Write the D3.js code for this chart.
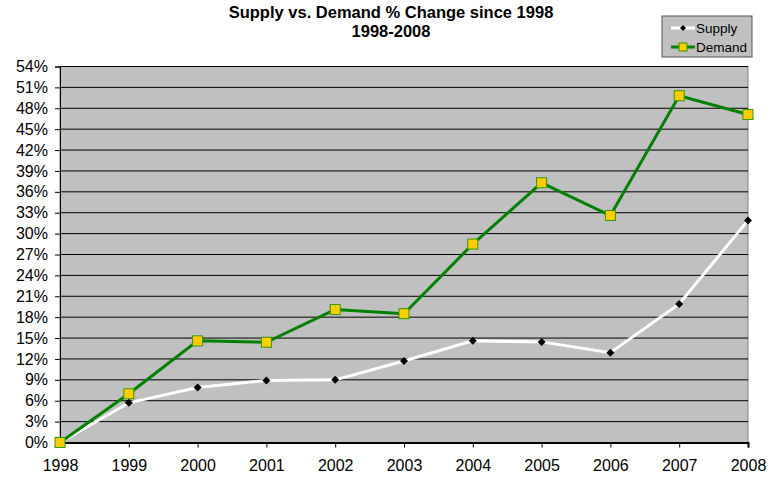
<!DOCTYPE html>
<html>
<head>
<meta charset="utf-8">
<script src="https://cdn.jsdelivr.net/npm/d3@7"></script>
<style>
  body { margin: 0; background: #fff; }
  text { font-family: Arial, "Liberation Sans", sans-serif; }
</style>
</head>
<body>
<div id="chart"></div>
<script>
// chart data
const years = [1998, 1999, 2000, 2001, 2002, 2003, 2004, 2005, 2006, 2007, 2008];
const supply = [0, 5.7, 7.9, 8.9, 9.0, 11.7, 14.6, 14.45, 12.9, 19.9, 31.9];
const demand = [0, 7.0, 14.6, 14.4, 19.1, 18.5, 28.5, 37.3, 32.6, 49.8, 47.1];
const yTicks = d3.range(0, 55, 3);
const titleLines = ["Supply vs. Demand % Change since 1998", "1998-2008"];

const W = 783, H = 477;
const margin = {top: 66.5, right: 35, bottom: 34.5, left: 60};
const w = W - margin.left - margin.right,
      h = H - margin.top - margin.bottom;

const svg = d3.select("#chart").append("svg")
  .attr("width", W)
  .attr("height", H);

const x = d3.scaleLinear().domain([1998, 2008]).range([0, w]);
const y = d3.scaleLinear().domain([0, 54]).range([h, 0]);

const g = svg.append("g")
  .attr("transform", "translate(" + margin.left + "," + margin.top + ")");

// plot area
g.append("rect")
  .attr("width", w).attr("height", h)
  .attr("fill", "#c0c0c0")
  .attr("stroke", "#808080");

// gridlines
g.selectAll(".grid")
  .data(yTicks.slice(1))
  .enter().append("line")
  .attr("x1", 0).attr("x2", w)
  .attr("y1", d => y(d)).attr("y2", d => y(d))
  .attr("stroke", "#000")
  .attr("stroke-width", 1);

// y axis
const yAxis = g.append("g")
  .call(d3.axisLeft(y).tickValues(yTicks).tickFormat(d => d + "%").tickSize(5).tickPadding(7));
yAxis.select(".domain").attr("stroke", "#000");
yAxis.selectAll("text").attr("font-size", "16px").attr("fill", "#000");

// x axis
const xAxis = g.append("g")
  .attr("transform", "translate(0," + h + ")")
  .call(d3.axisBottom(x).tickValues(years).tickFormat(d3.format("d")).tickSize(5).tickPadding(12));
xAxis.select(".domain").attr("stroke", "#000").attr("stroke-width", 2);
xAxis.selectAll("text").attr("font-size", "16px").attr("fill", "#000");

const line = d3.line()
  .x((d, i) => x(years[i]))
  .y(d => y(d));

// supply series
g.append("path")
  .datum(supply)
  .attr("d", line)
  .attr("fill", "none")
  .attr("stroke", "#fff")
  .attr("stroke-width", 3);

g.selectAll(".sup")
  .data(supply)
  .enter().append("path")
  .attr("transform", (d, i) => "translate(" + x(years[i]) + "," + y(d) + ")")
  .attr("d", "M0,-4L4,0L0,4L-4,0Z")
  .attr("fill", "#000");

// demand series
g.append("path")
  .datum(demand)
  .attr("d", line)
  .attr("fill", "none")
  .attr("stroke", "#008000")
  .attr("stroke-width", 3);

g.selectAll(".dem")
  .data(demand)
  .enter().append("rect")
  .attr("x", (d, i) => x(years[i]) - 5)
  .attr("y", d => y(d) - 5)
  .attr("width", 10).attr("height", 10)
  .attr("fill", "#ffcc00")
  .attr("stroke", "#339900")
  .attr("stroke-width", 1);

// title
svg.selectAll(".title")
  .data(titleLines)
  .enter().append("text")
  .attr("x", 391)
  .attr("y", (d, i) => 18 + i * 19)
  .attr("text-anchor", "middle")
  .attr("font-size", "16.5px")
  .attr("font-weight", "bold")
  .text(d => d);

// legend
const lg = svg.append("g").attr("transform", "translate(662,16)");
lg.append("rect")
  .attr("width", 90).attr("height", 41)
  .attr("fill", "#c0c0c0")
  .attr("stroke", "#555");

const items = [
  {name: "Supply", color: "#fff"},
  {name: "Demand", color: "#008000"}
];
const li = lg.selectAll(".li")
  .data(items)
  .enter().append("g")
  .attr("transform", (d, i) => "translate(0," + (12 + i * 19) + ")");
li.append("line")
  .attr("x1", 9).attr("x2", 33)
  .attr("stroke", d => d.color)
  .attr("stroke-width", 3);
li.filter((d, i) => i === 0).append("path")
  .attr("transform", "translate(21,0)")
  .attr("d", "M0,-3L3,0L0,3L-3,0Z")
  .attr("fill", "#000");
li.filter((d, i) => i === 1).append("rect")
  .attr("x", 17).attr("y", -4)
  .attr("width", 8).attr("height", 8)
  .attr("fill", "#ffcc00")
  .attr("stroke", "#339900");
li.append("text")
  .attr("x", 34).attr("y", 5)
  .attr("font-size", "13.5px")
  .text(d => d.name);
</script>
</body>
</html>
